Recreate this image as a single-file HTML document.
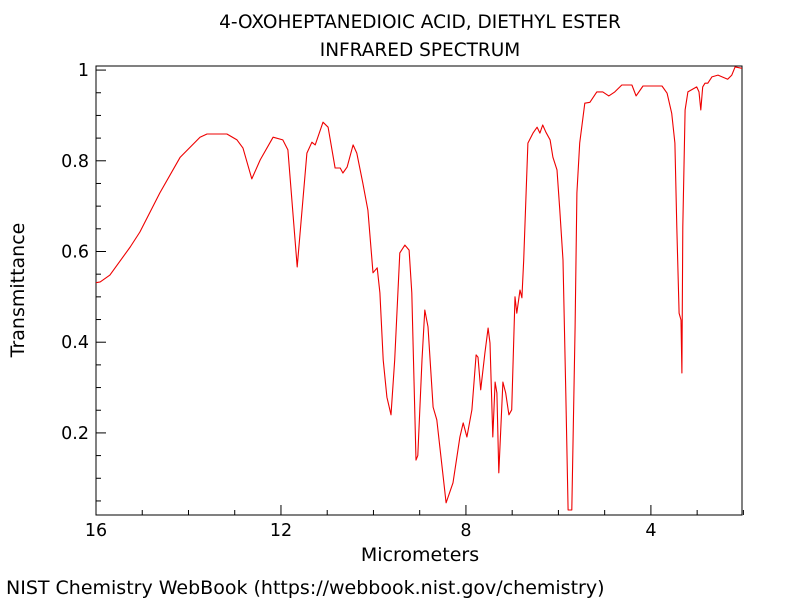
<!DOCTYPE html>
<html><head><meta charset="utf-8"><style>
body{margin:0;background:#fff;width:800px;height:600px;overflow:hidden;font-family:"DejaVu Sans","Liberation Sans",sans-serif}
</style></head><body>
<svg id="chart" width="800" height="600" xmlns="http://www.w3.org/2000/svg" font-family="DejaVu Sans, Liberation Sans, sans-serif">
<text x="420" y="28" text-anchor="middle" font-size="18.5">4-OXOHEPTANEDIOIC ACID, DIETHYL ESTER</text>
<text x="420" y="56" text-anchor="middle" font-size="18.5">INFRARED SPECTRUM</text>
<g id="axes"></g>
<text x="420" y="561" text-anchor="middle" font-size="19">Micrometers</text>
<text transform="translate(24,290) rotate(-90)" text-anchor="middle" font-size="19">Transmittance</text>
<text x="6" y="594" font-size="19">NIST Chemistry WebBook (https://webbook.nist.gov/chemistry)</text>
</svg>
<script>
const wavelengths=[16.02,15.91,15.70,15.26,15.05,14.62,14.18,13.75,13.60,13.17,12.95,12.82,12.63,12.45,12.17,11.96,11.85,11.65,11.44,11.33,11.26,11.09,10.98,10.83,10.72,10.66,10.57,10.44,10.36,10.23,10.12,10.01,9.92,9.86,9.79,9.71,9.62,9.54,9.43,9.32,9.23,9.17,9.08,9.04,8.95,8.89,8.82,8.71,8.63,8.43,8.28,8.13,8.06,7.98,7.87,7.78,7.74,7.68,7.59,7.52,7.48,7.42,7.37,7.33,7.29,7.20,7.14,7.07,7.01,6.94,6.90,6.83,6.79,6.75,6.70,6.66,6.55,6.46,6.40,6.34,6.27,6.18,6.12,6.03,5.97,5.90,5.84,5.79,5.71,5.64,5.60,5.54,5.43,5.32,5.17,5.04,4.91,4.78,4.63,4.41,4.32,4.17,3.76,3.65,3.55,3.48,3.44,3.39,3.35,3.33,3.31,3.26,3.20,3.01,2.96,2.92,2.88,2.83,2.77,2.68,2.55,2.34,2.25,2.18,2.03];
const transmittance=[0.531,0.533,0.548,0.610,0.643,0.729,0.808,0.852,0.859,0.859,0.846,0.828,0.760,0.802,0.852,0.846,0.824,0.566,0.817,0.841,0.835,0.885,0.874,0.784,0.784,0.773,0.786,0.835,0.817,0.751,0.691,0.553,0.564,0.509,0.361,0.279,0.240,0.361,0.597,0.614,0.603,0.509,0.140,0.150,0.361,0.471,0.434,0.257,0.229,0.046,0.090,0.191,0.222,0.191,0.251,0.372,0.367,0.295,0.376,0.431,0.398,0.191,0.312,0.288,0.112,0.312,0.288,0.240,0.251,0.500,0.464,0.515,0.498,0.581,0.729,0.839,0.861,0.874,0.861,0.879,0.863,0.846,0.808,0.780,0.691,0.581,0.288,0.030,0.030,0.434,0.729,0.839,0.927,0.929,0.952,0.952,0.943,0.952,0.967,0.967,0.943,0.965,0.965,0.949,0.905,0.839,0.654,0.464,0.449,0.332,0.654,0.912,0.952,0.963,0.952,0.912,0.963,0.971,0.971,0.985,0.989,0.980,0.989,1.007,1.004];
const xTickLabels=[16,12,8,4];
const yTickLabels=["0.2","0.4","0.6","0.8","1"];
const L=96,R=742,T=66,B=515;
const xMin=16,xMax=2.03,yMin=0.019,yMax=1.009;
const sx=v=>L+(xMin-v)/(xMin-xMax)*(R-L);
const sy=v=>B-(v-yMin)/(yMax-yMin)*(B-T);
const NS="http://www.w3.org/2000/svg";
const g=document.getElementById('axes');
function mk(tag,attrs,parent){const e=document.createElementNS(NS,tag);for(const k in attrs)e.setAttribute(k,attrs[k]);(parent||g).appendChild(e);return e;}
const clip=mk('clipPath',{id:'pc'});mk('rect',{x:L,y:T,width:R-L,height:B-T},clip);
const frame=mk('rect',{x:L,y:T,width:R-L,height:B-T,fill:'none',stroke:'#000','stroke-width':1});


for(let v=16;v>=2;v--){
  const major=xTickLabels.includes(v);
  const t=mk('line',{x1:sx(v),x2:sx(v),y1:B,y2:B-(major?10:5),stroke:'#000'});
  
  
}
xTickLabels.forEach(v=>{const t=mk('text',{x:sx(v),y:B+21,'text-anchor':'middle','font-size':17.5});t.textContent=v;

});
for(let i=1;i<=20;i++){const v=i*0.05;if(v<yMin)continue;
  const major=i%4===0;
  const t=mk('line',{x1:L,x2:L+(major?10:5),y1:sy(v),y2:sy(v),stroke:'#000'});
  
  }
yTickLabels.forEach(s=>{const t=mk('text',{x:L-7,y:sy(parseFloat(s))+6,'text-anchor':'end','font-size':17.5});t.textContent=s;

});
const pts=wavelengths.map((w,i)=>sx(w).toFixed(1)+','+sy(transmittance[i]).toFixed(1)).join(' ');
const line=mk('polyline',{points:pts,fill:'none',stroke:'#e00','stroke-width':1.1,'clip-path':'url(#pc)','stroke-linejoin':'round'});


</script>
</body></html>
